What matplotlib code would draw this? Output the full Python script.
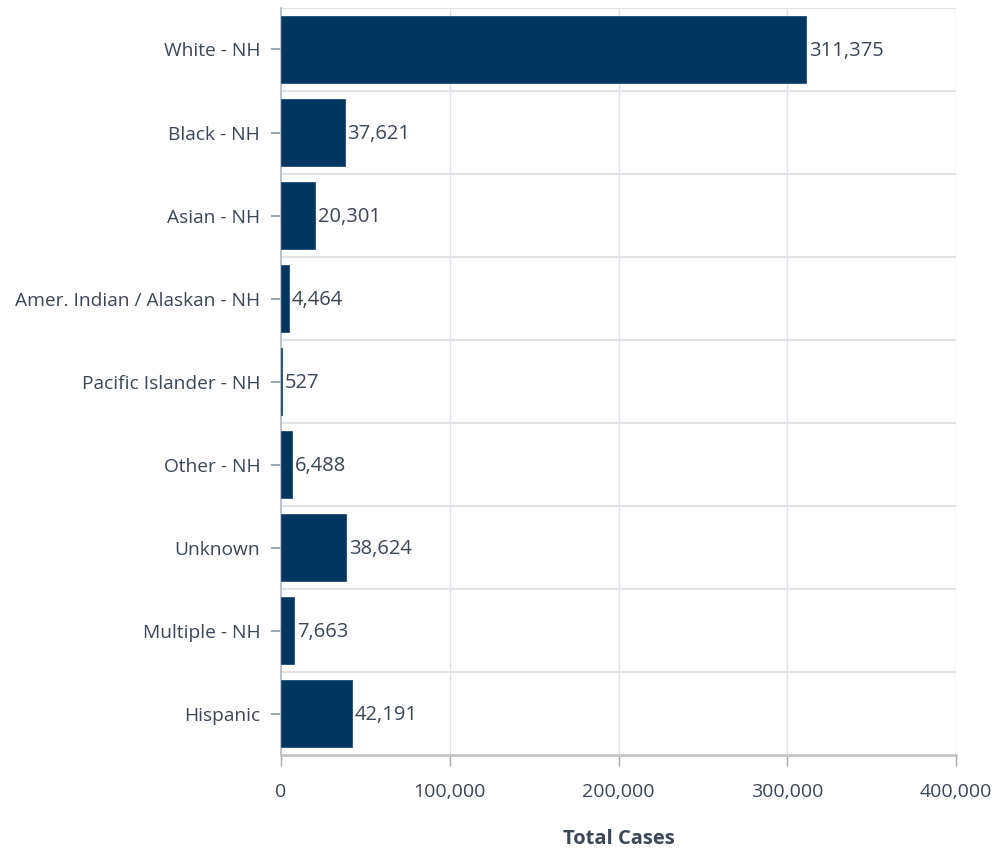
import matplotlib.pyplot as plt
import numpy as np

categories = ['White - NH', 'Black - NH', 'Asian - NH', 'Amer. Indian / Alaskan - NH',
              'Pacific Islander - NH', 'Other - NH', 'Unknown', 'Multiple - NH', 'Hispanic']
cases = [311375, 37621, 20301, 4464, 527, 6488, 38624, 7663, 42191]
xticks = [0, 100000, 200000, 300000, 400000]

plt.rcParams['font.family'] = ['Open Sans', 'DejaVu Sans']
txt = '#3b4656'

fig = plt.figure(figsize=(9.92, 8.51), dpi=100)
ax = fig.add_axes([0.2833, 0.1128, 0.9637 - 0.2833, 0.9906 - 0.1128])

y = np.arange(len(categories))
ax.barh(y, cases, height=0.8, color='#003660', edgecolor='#1f4d75', linewidth=0.6, zorder=3)

for yi, v in zip(y, cases):
    ax.annotate(f'{v:,}', (v, yi), xytext=(2, -1), textcoords='offset points',
                va='center', ha='left', fontsize=14.5, color=txt, zorder=4)

ax.set_xlim(0, 400000)
ax.set_ylim(len(categories) - 0.5, -0.5)
ax.set_yticks(y)
ax.set_yticklabels(categories)
ax.set_xticks(xticks)
ax.set_xticklabels([f'{t:,}' for t in xticks])

# grid
for t in xticks[1:]:
    ax.axvline(t, color='#dfe3e8', linewidth=1, zorder=1)
for b in np.arange(-0.5, len(categories) - 0.5, 1):
    ax.axhline(b, color='#dfe3e8', linewidth=1.5, zorder=1)

for s in ['top', 'right']:
    ax.spines[s].set_visible(False)
ax.spines['left'].set_color('#b0b8c2')
ax.spines['left'].set_linewidth(1.2)
ax.spines['bottom'].set_color('#c4c4c4')
ax.spines['bottom'].set_linewidth(2)

ax.tick_params(axis='y', length=7, width=1.2, color='#8a96a3', labelsize=13.8,
               labelcolor=txt, pad=8)
ax.tick_params(axis='x', length=8, width=1, color='#a8a8a8', labelsize=14,
               labelcolor=txt, pad=12)

ax.set_xlabel('Total Cases', fontsize=14.5, fontweight='bold', color=txt, labelpad=20)

fig.savefig('out.png', dpi=100)
